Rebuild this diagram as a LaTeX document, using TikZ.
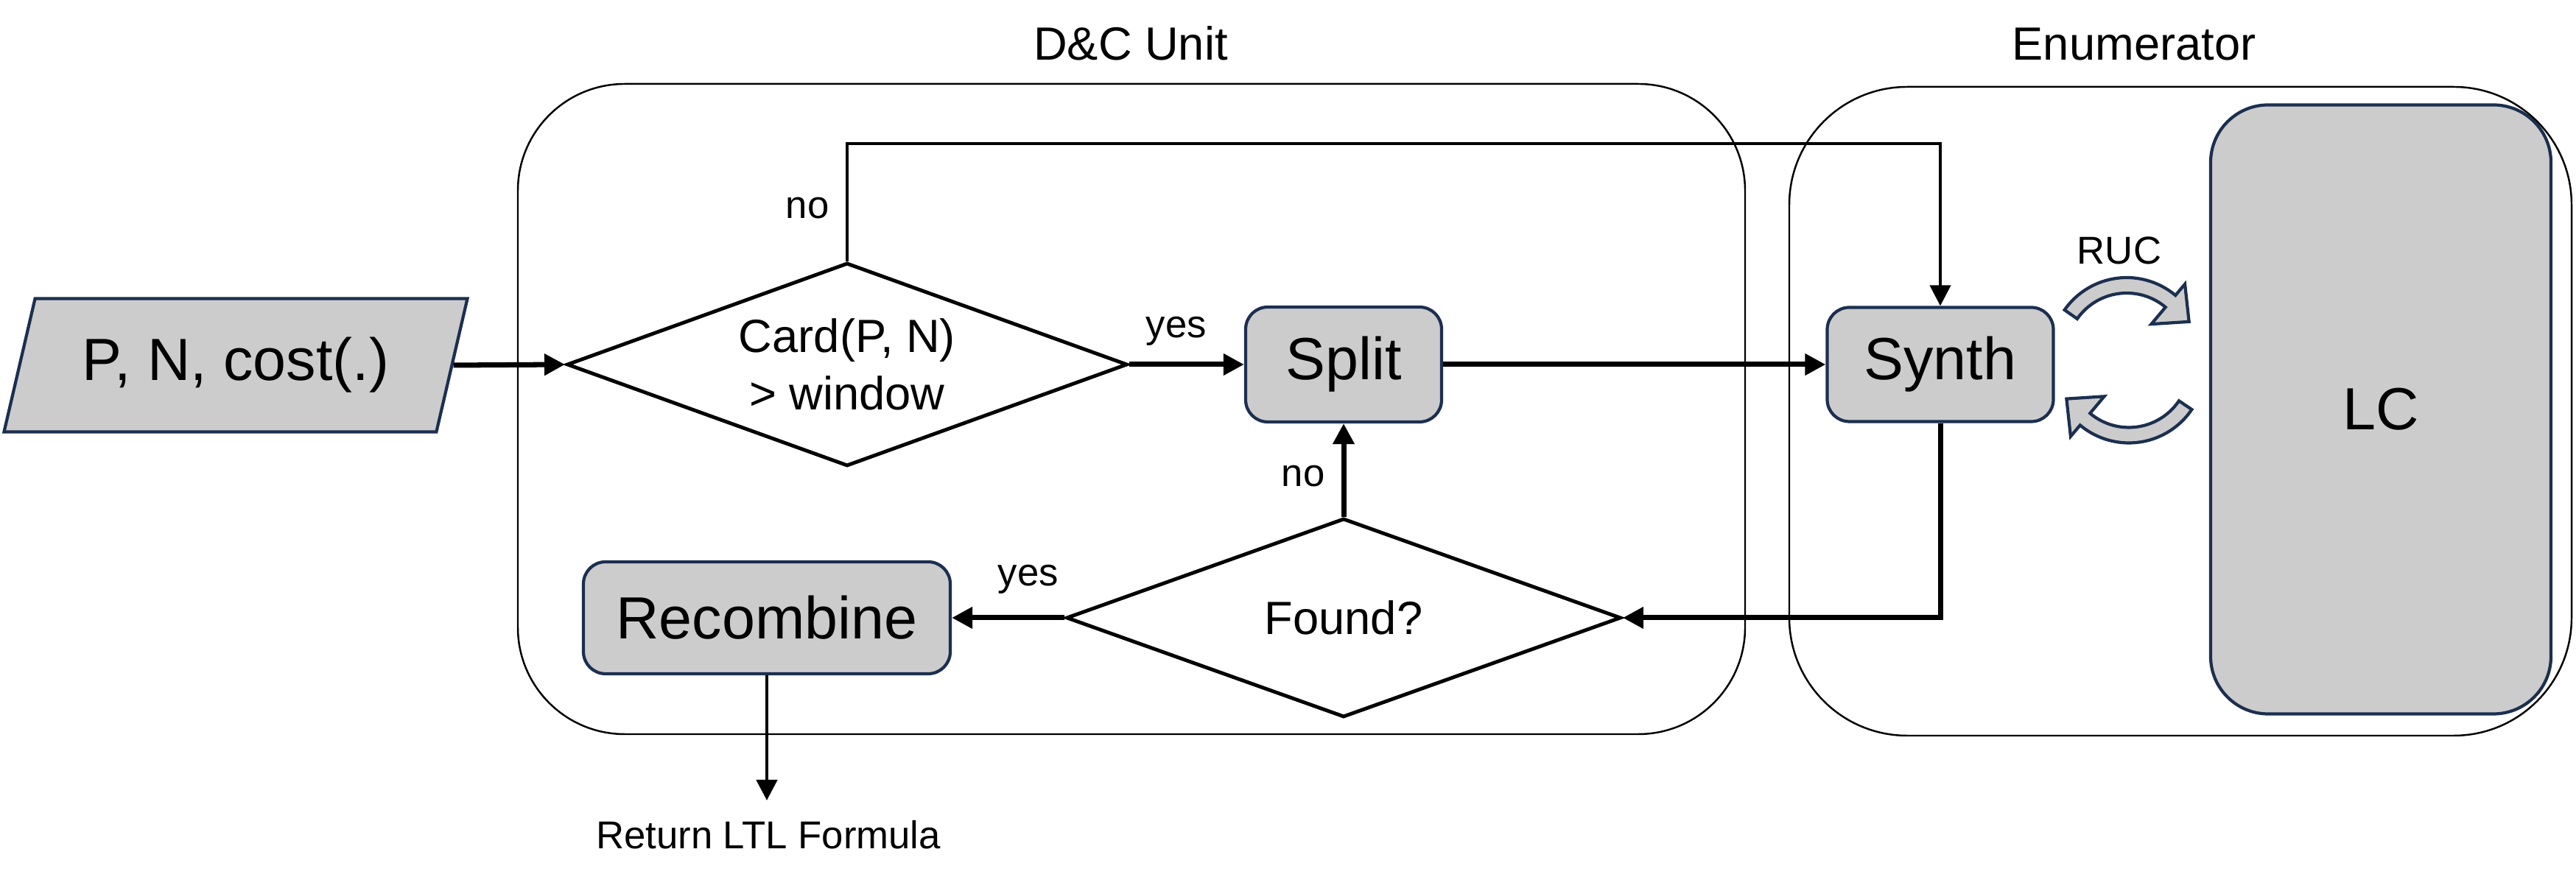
\documentclass[tikz,border=0pt]{standalone}
\usepackage{fontspec}
\setmainfont{Liberation Sans}
\usetikzlibrary{shapes.geometric,arrows.meta}
\definecolor{DCNavy}{HTML}{1C2F50}
\definecolor{DCGray}{HTML}{CCCCCC}

\begin{document}
\begin{tikzpicture}[x=1cm,y=1cm,
  blk/.style={draw=DCNavy,fill=DCGray,line width=1.2pt,rounded corners=0.3cm,font=\fontsize{23}{27}\selectfont},
  dec/.style={diamond,draw,line width=1.4pt,inner sep=0pt,align=center,font=\fontsize{18}{22}\selectfont},
  grp/.style={draw,line width=0.7pt},
  flow/.style={line width=2pt,-{Triangle[length=2.8mm,width=2.8mm]}},
  lbl/.style={font=\fontsize{15}{18}\selectfont},
  turn/.style={draw=DCNavy,fill=DCGray,line width=1.2pt}]
\path[use as bounding box] (0,0) rectangle (34.97,12.10);
\draw[grp,rounded corners=1.45cm] (7.03,2.13) rectangle (23.69,10.96);
\draw[grp,rounded corners=1.6cm] (24.29,2.11) rectangle (34.91,10.92);
\node[font=\fontsize{18}{22}\selectfont] (dctitle) at (15.35,11.51) {D\&C Unit};
\node[font=\fontsize{18}{22}\selectfont] (entitle) at (28.97,11.50) {Enumerator};
\node[trapezium,trapezium left angle=71,trapezium right angle=109,trapezium stretches=true,
  draw=DCNavy,fill=DCGray,line width=1.2pt,minimum width=6.3cm,minimum height=1.81cm,
  font=\fontsize{23}{27}\selectfont] (in) at (3.20,7.14) {P, N, cost(.)};
\node[dec,aspect=2.76,minimum width=7.61cm,minimum height=2.76cm] (card) at (11.50,7.15) {Card(P, N)\\> window};
\node[blk,minimum width=2.66cm,minimum height=1.56cm] (split) at (18.24,7.15) {Split};
\node[blk,minimum width=3.07cm,minimum height=1.55cm] (synth) at (26.34,7.15) {Synth};
\node[dec,aspect=2.79,minimum width=7.53cm,minimum height=2.70cm] (found) at (18.24,3.71) {Found?};
\node[blk,minimum width=4.98cm,minimum height=1.52cm] (rec) at (10.41,3.71) {Recombine};
\node[blk,rounded corners=0.78cm,minimum width=4.62cm,minimum height=8.27cm] (lc) at (32.32,6.54) {LC};
\node[lbl] (ret) at (10.43,0.76) {Return LTL Formula};
\coordinate (retpt) at (10.41,1.23);
\coordinate (noturn) at (26.34,10.15);
\draw[flow] (in.east) -- (card.west);
\draw[flow] (card.east) -- (split.west);
\draw[flow] (split.east) -- (synth.west);
\draw[flow,line width=1.2pt] (card.north) |- (noturn) -- (synth.north);
\draw[flow] (synth.south) |- (found.east);
\draw[flow] (found.north) -- (split.south);
\draw[flow] (found.west) -- (rec.east);
\draw[flow,line width=1.3pt] (rec.south) -- (retpt);
\node[lbl,anchor=east] (nohi) at (11.38,9.27) {no};
\node[lbl] (yeshi) at (15.97,7.60) {yes};
\node[lbl] (nolo) at (17.69,5.63) {no};
\node[lbl] (yeslo) at (13.96,4.23) {yes};
\node[lbl] (ruc) at (28.77,8.70) {RUC};
\begin{scope}[shift={(28.87,7.30)}]
\draw[turn] (145:0.82) arc[start angle=145,end angle=50,radius=0.82] -- (50:0.52) -- (27:0.95)
  -- (50:1.23) -- (50:1.03) arc[start angle=50,end angle=145,radius=1.03] -- cycle;
\end{scope}
\begin{scope}[shift={(28.90,7.115)}]
\draw[turn] (326:0.82) arc[start angle=326,end angle=230,radius=0.82] -- (230:0.52) -- (207:0.95)
  -- (230:1.23) -- (230:1.03) arc[start angle=230,end angle=326,radius=1.03] -- cycle;
\end{scope}
\end{tikzpicture}
\end{document}
